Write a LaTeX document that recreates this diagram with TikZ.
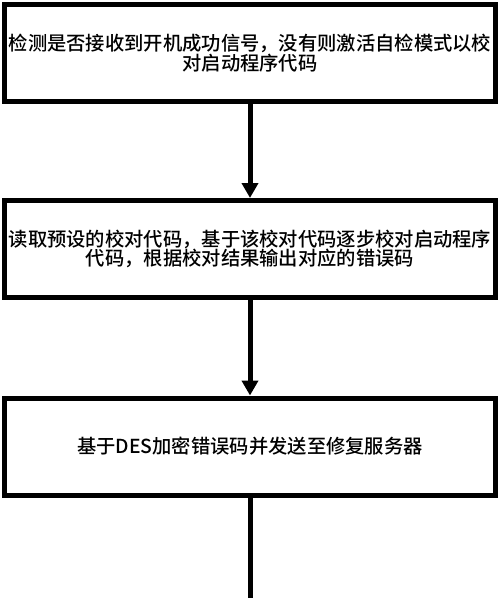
\documentclass[tikz,border=0pt]{standalone}
\usepackage{fontspec}
\newfontfamily\cjk{Noto Sans CJK SC}[UprightFont=* Medium]
\usepackage{tikz}
\usetikzlibrary{arrows.meta}

\begin{document}
\begin{tikzpicture}[x=1pt,y=-1pt,
    stepbox/.style={draw=black,line width=5pt,fill=white,
      minimum width=491pt,minimum height=97pt,inner sep=0pt,
      text width=490pt,align=center,
      font=\cjk\fontsize{19.3}{19.5}\selectfont},
    flow/.style={line width=5pt,-{Triangle[length=15pt,width=16pt]}},
    flowend/.style={line width=5pt}]
  \useasboundingbox (0,0) rectangle (500,598);
  \node[stepbox] (detect) at (250,53)
    {检测是否接收到开机成功信号，没有则激活自检模式以校\\对启动程序代码};
  \node[stepbox] (check) at (250,249)
    {读取预设的校对代码，基于该校对代码逐步校对启动程序\\代码，根据校对结果输出对应的错误码};
  \node[stepbox] (send) at (250,446.5)
    {基于DES加密错误码并发送至修复服务器};
  \coordinate (out) at (250,598);
  \draw[flow] (detect) -- (check);
  \draw[flow] (check) -- (send);
  \draw[flowend] (send) -- (out);
\end{tikzpicture}
\end{document}
